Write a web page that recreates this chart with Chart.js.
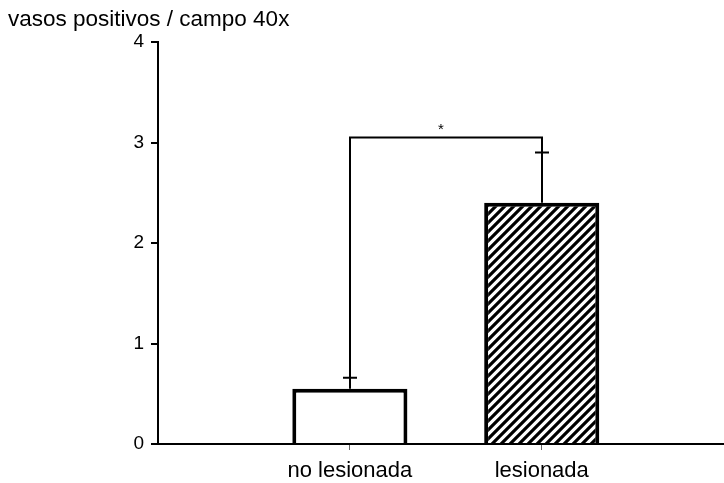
<!DOCTYPE html>
<html>
<head>
<meta charset="utf-8">
<script src="https://cdn.jsdelivr.net/npm/chart.js@4/dist/chart.umd.min.js"></script>
<style>
  html, body { margin: 0; padding: 0; background: #fff; }
  #wrap { width: 724px; height: 483px; position: relative; }
</style>
</head>
<body>
<div id="wrap"><canvas id="chart"></canvas></div>
<script>
// Groups, mean values and upper error (SEM) per group
const categories = ['no lesionada', 'lesionada'];
const means = [0.55, 2.4];
const errors = [0.11, 0.5];
const yTicks = [0, 1, 2, 3, 4];
// Significance bracket between the two groups
const bracketLevel = 3.05;
const sigLabel = '*';
const yTitle = 'vasos positivos / campo 40x';

const FONT = "'Liberation Sans', Arial, Helvetica, sans-serif";

function hatchPattern(ctx) {
  const s = 9;
  const c = document.createElement('canvas');
  c.width = s; c.height = s;
  const g = c.getContext('2d');
  g.fillStyle = '#fff';
  g.fillRect(0, 0, s, s);
  g.strokeStyle = '#000';
  g.lineWidth = 3.2;
  g.beginPath();
  g.moveTo(-s / 2, s / 2); g.lineTo(s / 2, -s / 2);
  g.moveTo(-1, s + 1); g.lineTo(s + 1, -1);
  g.moveTo(s / 2, s * 1.5); g.lineTo(s * 1.5, s / 2);
  g.stroke();
  return ctx.createPattern(c, 'repeat');
}

const canvas = document.getElementById('chart');
const ctx = canvas.getContext('2d');

// Error bars, significance bracket and the axis caption
const annotations = {
  id: 'annotations',
  afterDatasetsDraw(chart) {
    const { ctx } = chart;
    const xs = chart.scales.x, ys = chart.scales.y;
    const yBr = ys.getPixelForValue(bracketLevel);
    const px = [];
    ctx.save();
    ctx.strokeStyle = '#000';
    ctx.lineWidth = 2;
    means.forEach((m, i) => {
      const x = Math.round(xs.getPixelForValue(i + 1));
      px.push(x);
      const yTop = ys.getPixelForValue(m);
      const yCap = ys.getPixelForValue(m + errors[i]);
      ctx.beginPath();
      ctx.moveTo(x, yTop);
      ctx.lineTo(x, yBr);
      ctx.moveTo(x - 7, yCap);
      ctx.lineTo(x + 7, yCap);
      ctx.stroke();
    });
    ctx.beginPath();
    ctx.moveTo(px[0] - 1, yBr);
    ctx.lineTo(px[1] + 1, yBr);
    ctx.stroke();
    ctx.fillStyle = '#000';
    ctx.font = '15px ' + FONT;
    ctx.textAlign = 'center';
    ctx.textBaseline = 'middle';
    ctx.fillText(sigLabel, (px[0] + px[1]) / 2 - 5, yBr - 8);
    ctx.restore();
  },
  afterDraw(chart) {
    const { ctx } = chart;
    ctx.save();
    ctx.fillStyle = '#000';
    ctx.font = '22.5px ' + FONT;
    ctx.textAlign = 'left';
    ctx.textBaseline = 'middle';
    ctx.fillText(yTitle, 8, 20);
    ctx.restore();
  }
};

new Chart(ctx, {
  type: 'bar',
  data: {
    datasets: [{
      data: means.map((v, i) => ({ x: i + 1, y: v })),
      backgroundColor: ['#ffffff', hatchPattern(ctx)],
      borderColor: '#000',
      borderWidth: 4,
      borderSkipped: 'start',
      barPercentage: 0.6,
      categoryPercentage: 1.0
    }]
  },
  options: {
    responsive: true,
    maintainAspectRatio: false,
    animation: false,
    layout: { padding: { top: 42, right: 0, bottom: 0, left: 0 } },
    plugins: {
      legend: { display: false },
      tooltip: { enabled: false },
      title: { display: false }
    },
    scales: {
      x: {
        type: 'linear',
        min: 0,
        max: 2.95,
        offset: false,
        afterBuildTicks(scale) {
          scale.ticks = categories.map((_, i) => ({ value: i + 1 }));
        },
        afterFit(scale) { scale.height = 39; },
        ticks: {
          callback: (v) => categories[v - 1] ?? '',
          color: '#000',
          font: { family: FONT, size: 22 },
          padding: 8,
          maxRotation: 0,
          autoSkip: false
        },
        grid: { display: true, drawOnChartArea: false, offset: false, tickLength: 6, color: '#666', lineWidth: 1 },
        border: { display: true, color: '#000', width: 2 }
      },
      y: {
        min: 0,
        max: 4,
        afterBuildTicks(scale) {
          scale.ticks = yTicks.map(v => ({ value: v }));
        },
        afterFit(scale) { scale.width = 158; },
        ticks: {
          color: '#000',
          font: { family: FONT, size: 19 },
          padding: 7
        },
        grid: { display: true, drawOnChartArea: false, tickLength: 7, color: '#000', lineWidth: 2 },
        border: { display: true, color: '#000', width: 2 }
      }
    }
  },
  plugins: [annotations]
});
</script>
</body>
</html>
